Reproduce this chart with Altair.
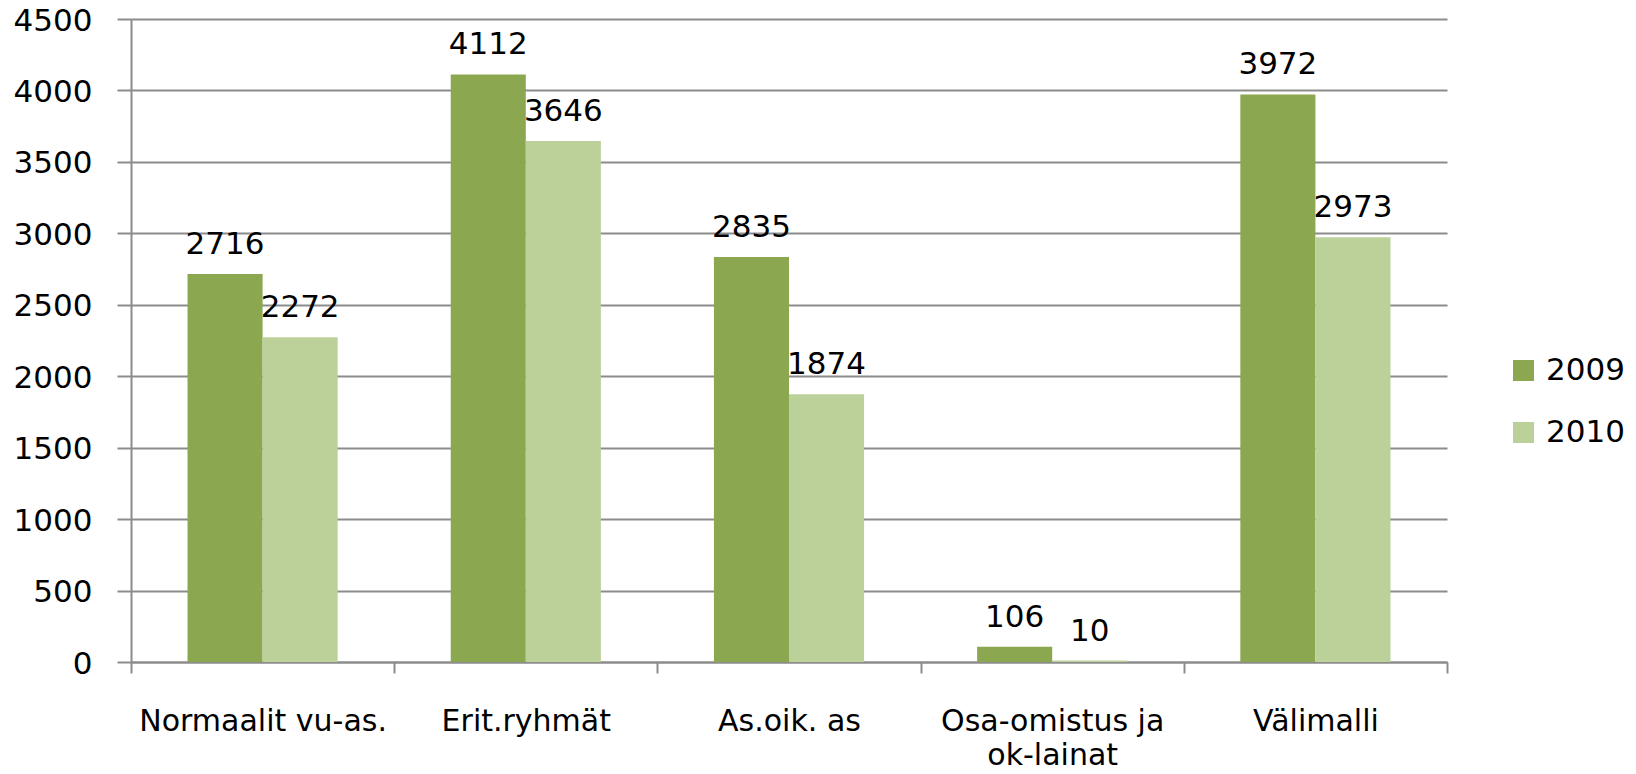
import altair as alt
import pandas as pd

categories = ["Normaalit vu-as.", "Erit.ryhmät", "As.oik. as", "Osa-omistus ja|ok-lainat", "Välimalli"]
years = ["2009", "2010"]
values_2009 = [2716, 4112, 2835, 106, 3972]
values_2010 = [2272, 3646, 1874, 10, 2973]
y_ticks = [0, 500, 1000, 1500, 2000, 2500, 3000, 3500, 4000, 4500]

rows = []
for c, a, b in zip(categories, values_2009, values_2010):
    rows.append({"cat": c, "year": "2009", "value": a})
    rows.append({"cat": c, "year": "2010", "value": b})
df = pd.DataFrame(rows)

FONT = "DejaVu Sans"
GRID = "#8c8c8c"

x_enc = alt.X(
    "cat:N",
    sort=categories,
    scale=alt.Scale(paddingInner=0, paddingOuter=0),
    axis=alt.Axis(
        title=None,
        labelAngle=0,
        labelFontSize=30,
        labelFont=FONT,
        labelColor="#000000",
        labelPadding=33,
        labelLineHeight=34,
        labelLimit=500,
        labelExpr="split(datum.label, '|')",
        tickBand="extent",
        tickSize=11,
        tickColor=GRID,
        tickWidth=2,
        domainColor=GRID,
        domainWidth=2,
        grid=False,
    ),
)
xoff_enc = alt.XOffset("year:N", sort=years, scale=alt.Scale(paddingInner=0, paddingOuter=0.753))
y_enc = alt.Y(
    "value:Q",
    scale=alt.Scale(domain=[0, 4500], nice=False),
    axis=alt.Axis(
        title=None,
        values=y_ticks,
        format="d",
        labelFontSize=31,
        labelFont=FONT,
        labelColor="#000000",
        labelPadding=25,
        labelOffset=2,
        tickSize=14,
        tickColor=GRID,
        tickWidth=2,
        domainColor=GRID,
        domainWidth=2,
        grid=True,
        gridColor=GRID,
        gridWidth=2,
    ),
)

bars = alt.Chart(df).mark_bar().encode(
    x=x_enc,
    xOffset=xoff_enc,
    y=y_enc,
    color=alt.Color(
        "year:N",
        sort=years,
        scale=alt.Scale(domain=years, range=["#8ba750", "#bcd09a"]),
        legend=alt.Legend(
            orient="none",
            legendX=1377,
            legendY=336,
            title=None,
            symbolType="square",
            symbolSize=441,
            symbolStrokeWidth=0,
            labelFontSize=31,
            labelFont=FONT,
            labelColor="#000000",
            rowPadding=30,
            labelOffset=7,
            labelLimit=200,
        ),
    ),
)

labels = alt.Chart(df).mark_text(
    baseline="alphabetic", dy=-20, fontSize=31, font=FONT, color="#000000"
).encode(
    x=alt.X("cat:N", sort=categories),
    xOffset=alt.XOffset("year:N", sort=years),
    y=alt.Y("value:Q"),
    text=alt.Text("value:Q"),
)

chart = (
    alt.layer(bars, labels)
    .properties(
        width=1316,
        height=643,
        padding={"left": 123, "top": 11, "right": 181, "bottom": 104},
        autosize=alt.AutoSizeParams(type="none"),
        background="#ffffff",
    )
    .configure_view(stroke=None)
)

chart.save("out.html", embed_options={"renderer": "svg", "actions": False})
